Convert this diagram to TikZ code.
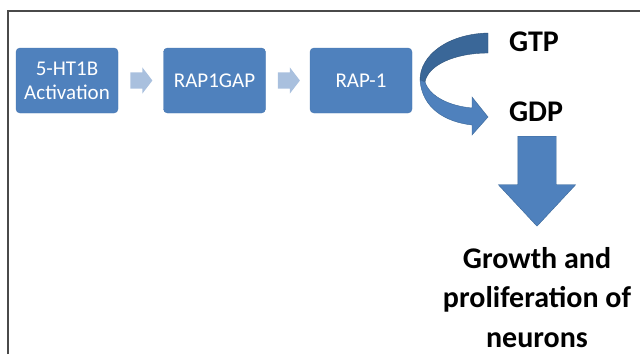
\documentclass[tikz,border=0pt]{standalone}
\usepackage{fontspec}
\setmainfont{Carlito}
\usetikzlibrary{shapes.arrows}
\definecolor{boxblue}{HTML}{4F81BD}
\definecolor{boxedge}{HTML}{4676B0}
\definecolor{paleblue}{HTML}{A9C0DE}
\definecolor{darkblue}{HTML}{3A6798}
\definecolor{framegray}{HTML}{4A4A4A}
\newcommand{\boxFont}[0]{\fontsize{21}{24}\selectfont}
\newcommand{\labelFont}[0]{\fontsize{30}{39.5}\selectfont\bfseries}

\begin{document}
\begin{tikzpicture}[x=1pt, y=-1pt]
  \tikzset{stepbox/.style={draw=boxedge, fill=boxblue, rounded corners=4pt, text=white, minimum width=102pt, minimum height=65pt, align=center, font=\boxFont, inner sep=0pt}}
  \tikzset{chevron/.style={single arrow, fill=paleblue, minimum height=22pt, single arrow head extend=5pt, single arrow tip angle=105, inner xsep=0pt, inner ysep=8pt, anchor=tail}}
  \tikzset{bigarrow/.style={single arrow, draw=darkblue, fill=boxblue, rotate=-90, minimum height=90pt, single arrow head extend=19.5pt, single arrow tip angle=86, inner xsep=0pt, inner ysep=19pt, anchor=tail}}
  \tikzset{molecule/.style={font=\labelFont, inner sep=0pt}}
  \useasboundingbox (0,0) rectangle (640,354);
  \draw[framegray, line width=2pt] (8,354) -- (8,10.5) -- (640,10.5);
  \node[stepbox] (box-1) at (67,80.5) {5-HT1B\\Activation};
  \node[stepbox] (box-2) at (214.5,80.5) {RAP1GAP};
  \node[stepbox] (box-3) at (361,80.5) {RAP-1};
  \node[chevron] (chev-1) at ([xshift=12pt]box-1.east) {};
  \node[chevron] (chev-2) at ([xshift=12pt]box-2.east) {};
  \node[molecule] (gtp) at (534,42) {GTP};
  \node[molecule] (gdp) at (536,112) {GDP};
  \node[bigarrow] (down) at (537,136) {};
  \node[molecule, align=center, anchor=north] (growth) at (537,247) {Growth and\\proliferation of\\neurons};
  \filldraw[darkblue, draw=darkblue!80!black, line width=0.4pt] (488,33) .. controls (448,34) and (420,55) .. (420,80) -- (425,82) .. controls (428,65) and (455,53) .. (488,53) -- cycle;
  \filldraw[boxblue, draw=darkblue, line width=0.4pt] (420,80) .. controls (422,108) and (445,122) .. (472,125) -- (472,135) -- (488,117) -- (472,97) -- (472,108) .. controls (450,106) and (430,97) .. (425,82) -- cycle;
\end{tikzpicture}
\end{document}
